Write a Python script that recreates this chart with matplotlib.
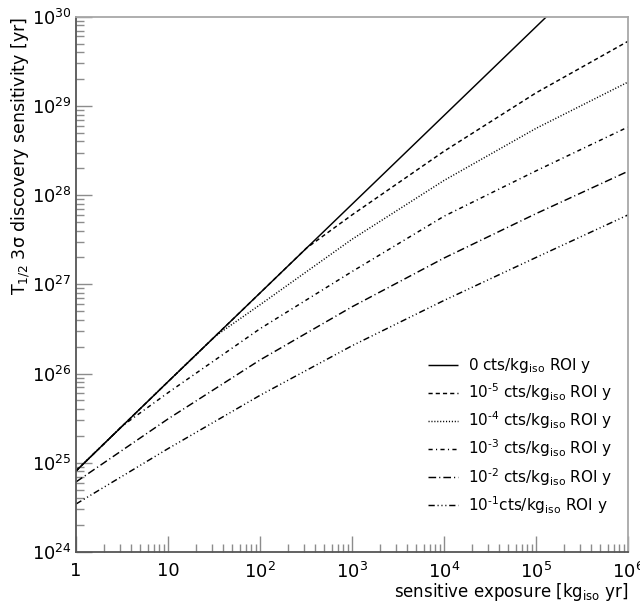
import matplotlib
matplotlib.use("Agg")
import matplotlib.pyplot as plt
from matplotlib.ticker import FixedLocator, FixedFormatter, LogLocator, NullFormatter

plt.rcParams["font.family"] = ["DejaVu Sans"]
plt.rcParams["mathtext.fontset"] = "dejavusans"
plt.rcParams["lines.scale_dashes"] = False

# Sensitive exposure [kg_iso yr] and 3 sigma discovery half-life [yr]
exp_bkg0 = [1, 10, 100, 1e3, 1e4, 1e5, 1.3e5]
t_bkg0 = [8.1e24, 8.1e25, 8.0e26, 7.9e27, 7.8e28, 7.7e29, 1.0e30]

exp_bkg1e5 = [1, 10, 100, 320, 1e3, 1e4, 1e5, 1e6]
t_bkg1e5 = [8.1e24, 8.1e25, 8.0e26, 2.55e27, 6.0e27, 3.1e28, 1.4e29, 5.3e29]

exp_bkg1e4 = [1, 10, 33, 100, 1e3, 1e4, 1e5, 1e6]
t_bkg1e4 = [8.1e24, 8.1e25, 2.65e26, 5.9e26, 3.2e27, 1.46e28, 5.6e28, 1.85e29]

exp_bkg1e3 = [1, 3.2, 10, 100, 1e3, 1e4, 1e5, 1e6]
t_bkg1e3 = [8.1e24, 2.6e25, 6.1e25, 3.18e26, 1.39e27, 5.8e27, 1.87e28, 5.8e28]

exp_bkg1e2 = [1, 10, 100, 1e3, 1e4, 1e5, 1e6]
t_bkg1e2 = [6.1e24, 3.1e25, 1.42e26, 5.6e26, 1.97e27, 6.2e27, 1.85e28]

exp_bkg1e1 = [1, 10, 100, 1e3, 1e4, 1e5, 1e6]
t_bkg1e1 = [3.45e24, 1.44e25, 5.7e25, 2.05e26, 6.6e26, 2.0e27, 6.0e27]

HY = "\N{HYPHEN}"
labels = [
    r"0 cts/kg$_{\rm iso}$ ROI y",
    "10$^{" + HY + r"5}$ cts/kg$_{\rm iso}$ ROI y",
    "10$^{" + HY + r"4}$ cts/kg$_{\rm iso}$ ROI y",
    "10$^{" + HY + r"3}$ cts/kg$_{\rm iso}$ ROI y",
    "10$^{" + HY + r"2}$ cts/kg$_{\rm iso}$ ROI y",
    "10$^{" + HY + r"1}$cts/kg$_{\rm iso}$ ROI y",
]

x_ticks = [1, 10, 100, 1e3, 1e4, 1e5, 1e6]
x_ticklabels = ["1", "10", r"10$^{2}$", r"10$^{3}$", r"10$^{4}$", r"10$^{5}$", r"10$^{6}$"]
y_ticks = [1e24, 1e25, 1e26, 1e27, 1e28, 1e29, 1e30]
y_ticklabels = [r"10$^{24}$", r"10$^{25}$", r"10$^{26}$", r"10$^{27}$",
                r"10$^{28}$", r"10$^{29}$", r"10$^{30}$"]

styles = [
    "-",
    (0, (3.0, 2.2)),
    (0, (0.8, 1.3)),
    (0, (3.0, 2.4, 0.8, 2.4)),
    (0, (5.5, 2.2, 0.8, 2.2)),
    (0, (4.5, 2.0, 0.8, 2.0, 0.8, 2.0, 0.8, 2.0)),
]

series = [
    (exp_bkg0, t_bkg0),
    (exp_bkg1e5, t_bkg1e5),
    (exp_bkg1e4, t_bkg1e4),
    (exp_bkg1e3, t_bkg1e3),
    (exp_bkg1e2, t_bkg1e2),
    (exp_bkg1e1, t_bkg1e1),
]

fig = plt.figure(figsize=(6.4, 6.1), dpi=100)
ax = fig.add_axes([76 / 640, 58 / 610, 552 / 640, 535.3 / 610])
ax.set_xscale("log")
ax.set_yscale("log")

for (xs, ys), ls, lab in zip(series, styles, labels):
    ax.plot(xs, ys, color="black", lw=1.05, linestyle=ls, label=lab,
            solid_capstyle="butt", dash_capstyle="butt")

ax.set_xlim(1, 1e6)
ax.set_ylim(1e24, 1e30)

ax.xaxis.set_major_locator(FixedLocator(x_ticks))
ax.xaxis.set_major_formatter(FixedFormatter(x_ticklabels))
ax.yaxis.set_major_locator(FixedLocator(y_ticks))
ax.yaxis.set_major_formatter(FixedFormatter(y_ticklabels))
ax.xaxis.set_minor_locator(LogLocator(base=10, subs=range(2, 10), numticks=20))
ax.yaxis.set_minor_locator(LogLocator(base=10, subs=range(2, 10), numticks=20))
ax.xaxis.set_minor_formatter(NullFormatter())
ax.yaxis.set_minor_formatter(NullFormatter())

ax.tick_params(which="both", direction="in", top=False, right=False,
               color="#8c8c8c", width=1.0)
ax.tick_params(which="major", length=11.5)
ax.tick_params(which="minor", length=5.8)
ax.tick_params(axis="x", which="major", labelsize=13, pad=7)
ax.tick_params(axis="y", which="major", labelsize=12.8, pad=3)

for side in ("left", "bottom"):
    ax.spines[side].set_color("#555555")
    ax.spines[side].set_linewidth(1.3)
for side in ("top", "right"):
    ax.spines[side].set_color("#a8a8a8")
    ax.spines[side].set_linewidth(1.3)

ax.set_xlabel(r"sensitive exposure [kg$_{\rm iso}$ yr]", fontsize=12, loc="right")
ax.xaxis.set_label_coords(1.0, -0.055)
ax.set_ylabel(r"T$_{1/2}$ 3σ discovery sensitivity [yr]", fontsize=12.5, loc="top")
ax.yaxis.set_label_coords(-0.08, 1.0)

ax.legend(loc="upper left", bbox_to_anchor=(0.638, 0.366), frameon=False,
          fontsize=11, handlelength=1.95, handletextpad=0.65,
          labelspacing=0.42, borderpad=0, borderaxespad=0)

fig.savefig("out.png", dpi=100)
